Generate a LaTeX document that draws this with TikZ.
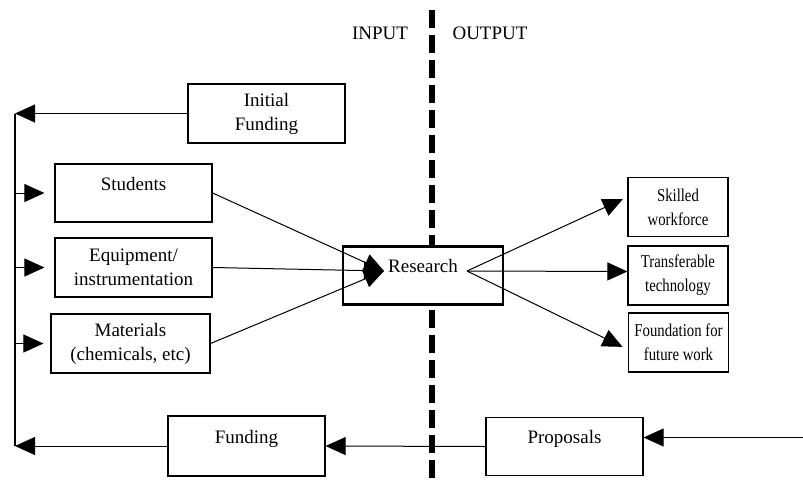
\documentclass[tikz,border=0pt]{standalone}
\usepackage{fontspec}
\setmainfont{Liberation Serif}
\newfontfamily\narrowserif[FakeStretch=0.82]{Liberation Serif}
\usetikzlibrary{calc,arrows.meta}

\begin{document}
\begin{tikzpicture}[x=1pt, y=-1pt,
        every node/.style={font=\fontsize{19}{24}\selectfont},
        box/.style={draw, line width=1.2pt, align=center, inner sep=5pt},
        topbox/.style={box, text height=21pt, text depth=27pt},
        outbox/.style={box, font=\narrowserif\fontsize{18}{24}\selectfont,
            inner sep=3pt, minimum width=100pt, minimum height=59pt},
        arr/.style={-{Triangle[length=20pt, width=18pt]}, line width=1pt}]

                \useasboundingbox (0, 0) rectangle (803, 482);

                % Points where the arrows meet inside the research box,
                % and the ends of the feedback line on the left
                \begin{scope}
                    \coordinate (rin) at (384, 271);
                    \coordinate (rout) at (467, 271);
                    \coordinate (lt) at (15, 113.5);
                    \coordinate (lb) at (15, 446);
                    \coordinate (rr) at (803, 437.5);
                    \coordinate (dt) at (432, 10);
                    \coordinate (db) at (432, 482);
                \end{scope}

                % Dashed line between input and output
                \begin{scope}[line width=6pt, dash pattern=on 18pt off 7pt]
                    \draw (dt) -- (db);
                \end{scope}

                \node (in) at (380, 33) {INPUT};
                \node (out) at (490, 33) {OUTPUT};

                % Input side
                \begin{scope}
                    \node (IF) at (266.5, 113.5) [box, minimum width=157pt, minimum height=59pt] {Initial\\Funding};
                    \node (St) at (133.5, 193) [topbox, minimum width=157pt] {Students};
                    \node (Eq) at (133.5, 267.5) [box, minimum width=157pt, minimum height=59pt] {Equipment/\\instrumentation};
                    \node (Ma) at (130.5, 343.5) [box, minimum width=159pt, minimum height=59pt] {Materials\\(chemicals, etc)};
                    \node (Fu) at (246.5, 446) [topbox, minimum width=157pt, minimum height=60pt] {Funding};
                \end{scope}

                \node (R) at (423, 275.5) [topbox, fill=white, line width=2.5pt, minimum width=160pt] {Research};

                % Output side
                \begin{scope}
                    \node (Sk) at (678, 207) [outbox] {Skilled\\workforce};
                    \node (Tr) at (678, 275.5) [outbox] {Transferable\\technology};
                    \node (Fo) at (678.5, 342.5) [outbox] {Foundation for\\future work};
                    \node (Pr) at (564.5, 446.5) [topbox, minimum width=157pt, minimum height=57pt] {Proposals};
                \end{scope}

                % Feedback loop round the outside
                \begin{scope}[line width=1.2pt]
                    \draw[line width=2pt] (lt) -- (lb);
                    \draw[arr] (IF.west) -- (lt);
                    \draw[arr] (Fu.west) -- (lb);
                    \draw[arr] (Pr.west) -- (Fu.east);
                    \draw[arr] (rr) -- (rr -| Pr.east);
                    \draw[arr, shorten >=10pt] (St.west -| lt) -- (St.west);
                    \draw[arr, shorten >=10pt] (Eq.west -| lt) -- (Eq.west);
                    \draw[arr, shorten >=7pt] (Ma.west -| lt) -- (Ma.west);
                \end{scope}

                % Arrows into and out of the research box
                \begin{scope}
                    \draw[arr] (St.east) -- (rin);
                    \draw[arr] (Eq.east) -- (rin);
                    \draw[arr] (Ma.east) -- (rin);
                    \draw[arr, shorten >=5pt] (rout) -- ([yshift=10pt]Sk.west);
                    \draw[arr] (rout) -- ([yshift=4pt]Tr.west);
                    \draw[arr, shorten >=6pt] (rout) -- ([yshift=-7pt]Fo.west);
                \end{scope}

\end{tikzpicture}
\end{document}
